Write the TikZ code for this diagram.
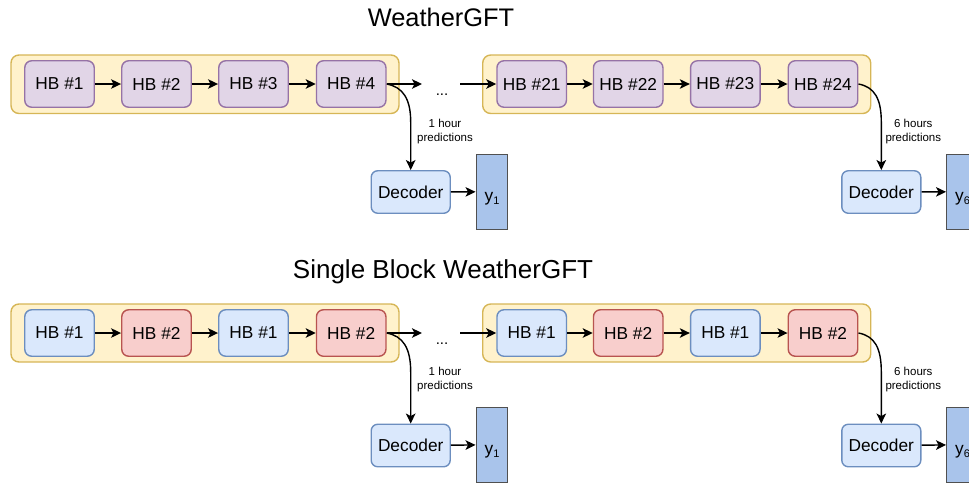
\documentclass[tikz,border=0pt]{standalone}
\usepackage{fontspec}
\setmainfont{Liberation Sans}
\usetikzlibrary{arrows.meta}

\definecolor{hbpurple}{HTML}{E1D5E7}
\definecolor{hbpurpleline}{HTML}{9673A6}
\definecolor{hbblue}{HTML}{DAE8FC}
\definecolor{hbblueline}{HTML}{6C8EBF}
\definecolor{hbred}{HTML}{F8CECC}
\definecolor{hbredline}{HTML}{B85450}
\definecolor{grpfill}{HTML}{FFF2CC}
\definecolor{grpline}{HTML}{D6B656}
\definecolor{outfill}{HTML}{A9C4EB}
\definecolor{outdraw}{HTML}{505050}

\newcommand{\ysub}[1]{y\raisebox{-3.5pt}{\fontsize{11}{11}\selectfont #1}}

\begin{document}
\begin{tikzpicture}[x=1pt,y=1pt,
  blk/.style={rectangle,rounded corners=7pt,line width=1.4pt,minimum width=69.5pt,
    minimum height=46.5pt,inner sep=0pt,font=\fontsize{17.3}{20}\selectfont},
  hbp/.style={blk,fill=hbpurple,draw=hbpurpleline},
  hbb/.style={blk,fill=hbblue,draw=hbblueline},
  hbr/.style={blk,fill=hbred,draw=hbredline},
  dec/.style={blk,fill=hbblue,draw=hbblueline,minimum width=79pt,minimum height=42.5pt,rounded corners=6.5pt},
  outp/.style={rectangle,fill=outfill,draw=outdraw,line width=1.4pt,minimum width=31.5pt,
    minimum height=75pt,inner sep=0pt,text height=19pt,text depth=0pt,
    font=\fontsize{17.3}{20}\selectfont},
  grpbox/.style={fill=grpfill,draw=grpline,line width=1.4pt,rounded corners=8pt},
  arr/.style={-{Stealth[length=10pt,width=9.5pt,inset=2.5pt]},line width=1.4pt},
  lbl/.style={align=center,font=\fontsize{11.5}{14}\selectfont},
  ttl/.style={font=\fontsize{25.4}{30}\selectfont}]

\useasboundingbox (0,0) rectangle (969,-483);
\clip (0,0) rectangle (969,-483);

% WeatherGFT
\begin{scope}
\node[ttl,anchor=base] (title1) at (441,-26.7) {WeatherGFT};

\draw[grpbox] (11,-55) rectangle (399,-113.5);
\draw[grpbox] (482.7,-55) rectangle (870.7,-113.5);

\node[hbp] (hb1) at (59.5,-84) {HB \#1};
\node[hbp] (hb2) at (156.5,-84) {HB \#2};
\node[hbp] (hb3) at (253.5,-84) {HB \#3};
\node[hbp] (hb4) at (351.2,-84) {HB \#4};
\node[hbp] (hb21) at (531.7,-84) {HB \#21};
\node[hbp] (hb22) at (628.2,-84) {HB \#22};
\node[hbp] (hb23) at (725.3,-84) {HB \#23};
\node[hbp] (hb24) at (823,-84) {HB \#24};

\coordinate (gapa) at (422,-84);
\coordinate (gapb) at (460,-84);
\node[font=\fontsize{15}{18}\selectfont,anchor=base] (dots1) at (442,-95) {...};

\draw[arr] (hb1) -- (hb2);
\draw[arr] (hb2) -- (hb3);
\draw[arr] (hb3) -- (hb4);
\draw[arr] (hb4) -- (gapa);
\draw[arr] (gapb) -- (hb21);
\draw[arr] (hb21) -- (hb22);
\draw[arr] (hb22) -- (hb23);
\draw[arr] (hb23) -- (hb24);

\node[dec] (dec1) at (410.7,-192) {Decoder};
\node[dec] (dec6) at (881.3,-192) {Decoder};
\node[outp] (out1) at (492,-191.8) {\ysub{1}};
\node[outp] (out6) at (962.5,-191.8) {\ysub{6}};

\draw[arr] (hb4.east) .. controls (403,-87) and (410.7,-99) .. (410.7,-122) -- (dec1.north);
\draw[arr] (hb24.east) .. controls (874.7,-87) and (881.3,-99) .. (881.3,-122) -- (dec6.north);
\draw[arr] (dec1) -- (out1);
\draw[arr] (dec6) -- (out6);

\node[lbl] (lab1) at (445,-132) {1 hour\\predictions};
\node[lbl] (lab6) at (913.3,-132) {6 hours\\predictions};
\end{scope}

% Single Block WeatherGFT
\begin{scope}
\node[ttl,font=\fontsize{26}{30}\selectfont,anchor=base] (title2) at (443,-278) {Single Block WeatherGFT};

\draw[grpbox] (11,-304) rectangle (399,-362);
\draw[grpbox] (482.7,-304) rectangle (870.7,-362);

\node[hbb] (sb1) at (59.5,-333) {HB \#1};
\node[hbr] (sb2) at (156.5,-333) {HB \#2};
\node[hbb] (sb3) at (253.5,-333) {HB \#1};
\node[hbr] (sb4) at (351.2,-333) {HB \#2};
\node[hbb] (sb21) at (531.7,-333) {HB \#1};
\node[hbr] (sb22) at (628.2,-333) {HB \#2};
\node[hbb] (sb23) at (725.3,-333) {HB \#1};
\node[hbr] (sb24) at (823,-333) {HB \#2};

\coordinate (sgapa) at (422,-333);
\coordinate (sgapb) at (460,-333);
\node[font=\fontsize{15}{18}\selectfont,anchor=base] (dots2) at (442,-344) {...};

\draw[arr] (sb1) -- (sb2);
\draw[arr] (sb2) -- (sb3);
\draw[arr] (sb3) -- (sb4);
\draw[arr] (sb4) -- (sgapa);
\draw[arr] (sgapb) -- (sb21);
\draw[arr] (sb21) -- (sb22);
\draw[arr] (sb22) -- (sb23);
\draw[arr] (sb23) -- (sb24);

\node[dec] (sdec1) at (410.7,-445.5) {Decoder};
\node[dec] (sdec6) at (881.3,-445.5) {Decoder};
\node[outp] (sout1) at (492,-444.8) {\ysub{1}};
\node[outp] (sout6) at (962.5,-444.8) {\ysub{6}};

\draw[arr] (sb4.east) .. controls (403,-336) and (410.7,-348) .. (410.7,-372) -- (sdec1.north);
\draw[arr] (sb24.east) .. controls (874.7,-336) and (881.3,-348) .. (881.3,-372) -- (sdec6.north);
\draw[arr] (sdec1) -- (sout1);
\draw[arr] (sdec6) -- (sout6);

\node[lbl] (slab1) at (445,-379.2) {1 hour\\predictions};
\node[lbl] (slab6) at (913.3,-379.2) {6 hours\\predictions};
\end{scope}

\end{tikzpicture}
\end{document}
